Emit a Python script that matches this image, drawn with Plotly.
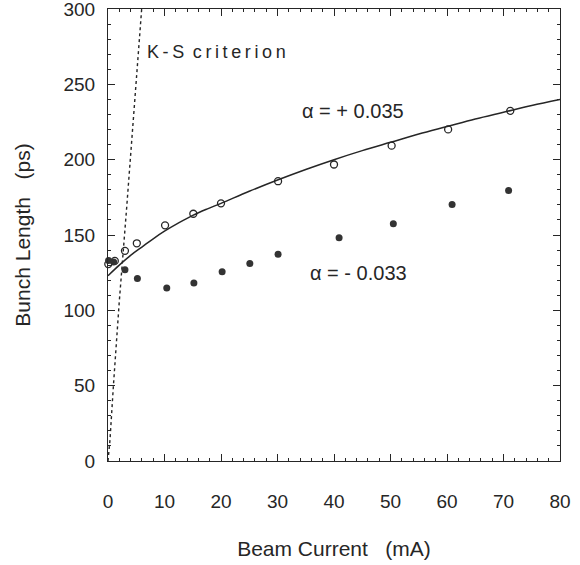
import plotly.graph_objects as go

# Data
pos_current = [0.05, 1.2, 3.0, 5.1, 10.1, 15.1, 20.0, 30.1, 40.0, 50.2, 60.2, 71.2]
pos_length = [130.7, 132.8, 139.5, 144.5, 156.4, 164.1, 171.0, 185.7, 196.8, 209.3, 220.1, 232.4]

neg_current = [0.1, 1.0, 3.0, 5.2, 10.4, 15.2, 20.2, 25.1, 30.1, 40.9, 50.5, 60.9, 70.9]
neg_length = [133.0, 132.0, 126.9, 121.2, 114.8, 118.1, 125.6, 131.1, 137.3, 148.2, 157.5, 170.3, 179.6]

fit_current = [0, 2, 4, 6, 8, 10, 12.5, 15, 17.5, 20, 25, 30, 35, 40, 45, 50, 55, 60, 65, 70, 75, 80]
fit_length = [123, 130, 136.5, 142, 147.5, 152.5, 158, 163, 167.2, 171, 179, 186.5, 193.5, 200,
              206, 211.5, 217, 222, 227, 231.5, 236, 240]

ks_current = [0.0, 0.35, 0.94, 2.0, 3.3, 4.6, 5.96]
ks_length = [0, 14, 49, 106, 168, 232, 300]

x_ticks = [0, 10, 20, 30, 40, 50, 60, 70, 80]
y_ticks = [0, 50, 100, 150, 200, 250, 300]

ink = "#262626"
font_family = "Liberation Sans, Arial, Helvetica, sans-serif"

fig = go.Figure()

fig.add_trace(go.Scatter(
    x=ks_current, y=ks_length, mode="lines",
    line=dict(color=ink, width=1.4, dash="dot"),
    showlegend=False, hoverinfo="skip"))

fig.add_trace(go.Scatter(
    x=fit_current, y=fit_length, mode="lines",
    line=dict(color=ink, width=1.5, shape="spline", smoothing=1.0),
    showlegend=False))

fig.add_trace(go.Scatter(
    x=pos_current, y=pos_length, mode="markers",
    marker=dict(symbol="circle-open", size=7, color=ink, line=dict(width=1.3, color=ink)),
    cliponaxis=False, showlegend=False))

fig.add_trace(go.Scatter(
    x=neg_current, y=neg_length, mode="markers",
    marker=dict(symbol="circle", size=7, color="#333333"),
    cliponaxis=False, showlegend=False))

ts = "\u2009"
ks_label = ts.join(list("K-S")) + ts + " " + ts.join(list("criterion"))

fig.add_annotation(x=6.55, y=271.6, xref="x", yref="y", text=ks_label,
                   showarrow=False, xanchor="left", yanchor="middle",
                   font=dict(size=18, color=ink, family=font_family))
fig.add_annotation(x=34.0, y=232.0, xref="x", yref="y", text="α = + 0.035",
                   showarrow=False, xanchor="left", yanchor="middle",
                   font=dict(size=20, color=ink, family=font_family))
fig.add_annotation(x=35.4, y=124.9, xref="x", yref="y", text="α = - 0.033",
                   showarrow=False, xanchor="left", yanchor="middle",
                   font=dict(size=20, color=ink, family=font_family))

axis_common = dict(
    showgrid=False, zeroline=False, showline=True, linecolor=ink, linewidth=1.2,
    mirror="allticks", ticks="inside", tickcolor=ink, tickwidth=1, ticklen=7,
    tickfont=dict(size=19, color=ink, family=font_family),
    ticklabeloverflow="allow", automargin=False,
)

fig.update_xaxes(
    range=[0, 80], tickmode="array", tickvals=x_ticks,
    minor=dict(ticks="inside", ticklen=3, tickcolor=ink, dtick=2, tick0=0, showgrid=False),
    ticklabelstandoff=23,
    title=dict(text="Beam Current   (mA)", font=dict(size=21, color=ink, family=font_family), standoff=30),
    **axis_common)
fig.update_yaxes(
    range=[0, 300], tickmode="array", tickvals=y_ticks,
    minor=dict(ticks="inside", ticklen=3, tickcolor=ink, dtick=10, tick0=0, showgrid=False),
    ticklabelstandoff=8,
    title=dict(text="Bunch Length   (ps)", font=dict(size=21, color=ink, family=font_family), standoff=27),
    **axis_common)

fig.update_layout(
    width=580, height=565,
    margin=dict(l=108, r=20, t=9, b=104),
    paper_bgcolor="white", plot_bgcolor="white",
    showlegend=False,
)

fig.write_html("out.html", config={"displayModeBar": False},
               post_script="document.body.style.margin='0';")
